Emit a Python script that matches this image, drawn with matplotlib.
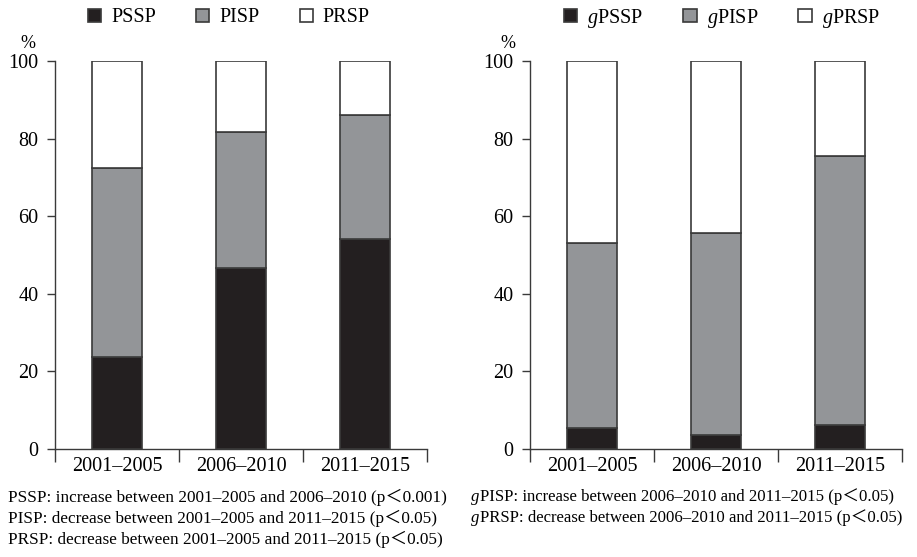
import matplotlib
matplotlib.use("Agg")
import matplotlib.pyplot as plt
from matplotlib.text import Annotation
import numpy as np

periods = ["2001–2005", "2006–2010", "2011–2015"]
pssp = [23.8, 46.7, 54.1]
pisp = [48.5, 35.0, 31.9]
prsp = [27.7, 18.3, 14.0]
gpssp = [5.3, 3.6, 6.2]
gpisp = [47.7, 52.1, 69.3]
gprsp = [47.0, 44.3, 24.5]

left_labels = ["PSSP", "PISP", "PRSP"]
right_labels = ["$\\mathit{g}$PSSP", "$\\mathit{g}$PISP", "$\\mathit{g}$PRSP"]

left_notes = [
    "PSSP: increase between 2001–2005 and 2006–2010 (p＜0.001)",
    "PISP: decrease between 2001–2005 and 2011–2015 (p＜0.05)",
    "PRSP: decrease between 2001–2005 and 2011–2015 (p＜0.05)",
]
right_notes = [
    ("g", "PISP: increase between 2006–2010 and 2011–2015 (p＜0.05)"),
    ("g", "PRSP: decrease between 2006–2010 and 2011–2015 (p＜0.05)"),
]

plt.rcParams['font.family'] = ['Liberation Serif', 'Noto Sans CJK KR']
plt.rcParams['mathtext.fontset'] = 'custom'
plt.rcParams['mathtext.rm'] = 'Liberation Serif'
plt.rcParams['mathtext.it'] = 'Liberation Serif:italic'

W, H = 917, 557
fig = plt.figure(figsize=(W / 100, H / 100), dpi=100)

colors = ["#231f20", "#939598", "#ffffff"]
edge = "#3a3a3a"

def px(x0, y0, x1, y1):
    return [x0 / W, 1 - y1 / H, (x1 - x0) / W, (y1 - y0) / H]

def draw(ax, s1, s2, s3, labels, legend_x):
    x = np.arange(len(periods))
    b = np.zeros(len(periods))
    handles = []
    for vals, c, lab in zip([s1, s2, s3], colors, labels):
        h = ax.bar(x, vals, bottom=b, width=0.4, color=c, edgecolor=edge,
                   linewidth=1.2, label=lab)
        handles.append(h)
        b = b + np.array(vals)
    ax.set_xlim(-0.5, 2.5)
    ax.set_ylim(0, 100)
    for s in ["top", "right"]:
        ax.spines[s].set_visible(False)
    for s in ["left", "bottom"]:
        ax.spines[s].set_color(edge)
        ax.spines[s].set_linewidth(1.0)
    ax.set_yticks([0, 20, 40, 60, 80, 100])
    ax.tick_params(axis='y', direction='out', length=6, width=1.0, color=edge,
                   labelsize=14.5, pad=6)
    ax.set_xticks(x)
    ax.set_xticklabels(periods)
    ax.tick_params(axis='x', which='major', length=0, labelsize=14.5, pad=6)
    ax.set_xticks([-0.5, 0.5, 1.5, 2.5], minor=True)
    ax.tick_params(axis='x', which='minor', direction='out', length=9, width=1.0, color=edge)
    fig.legend(handles=handles, loc='center left',
               bbox_to_anchor=(legend_x / W, 1 - 18 / H), ncol=3, frameon=False,
               fontsize=14.5, handlelength=0.65, handleheight=0.65,
               handletextpad=0.5, columnspacing=2.0, borderaxespad=0, borderpad=0)

ax1 = fig.add_axes(px(55, 61, 427, 449))
draw(ax1, pssp, pisp, prsp, left_labels, 88)
ax2 = fig.add_axes(px(530, 61, 902, 449))
draw(ax2, gpssp, gpisp, gprsp, right_labels, 564)

fig.text(20 / W, 1 - 43 / H, "%", fontsize=13, ha='left', va='center')
fig.text(500 / W, 1 - 43 / H, "%", fontsize=13, ha='left', va='center')

ys = [497, 518, 539]
for t, y in zip(left_notes, ys):
    fig.text(8 / W, 1 - y / H, t, fontsize=12.4, ha='left', va='center')
fs = 12.1
for (g, t), y in zip(right_notes, ys):
    tg = fig.text(471 / W, 1 - y / H, g, fontsize=fs, ha='left', va='center',
                  style='italic', family='Liberation Serif')
    fig.add_artist(Annotation(
        t, xy=(1, 0), xycoords=tg, xytext=(0.3, 0), textcoords='offset points',
        fontsize=fs, ha='left', va='bottom'))

fig.savefig("out.png", dpi=100)
